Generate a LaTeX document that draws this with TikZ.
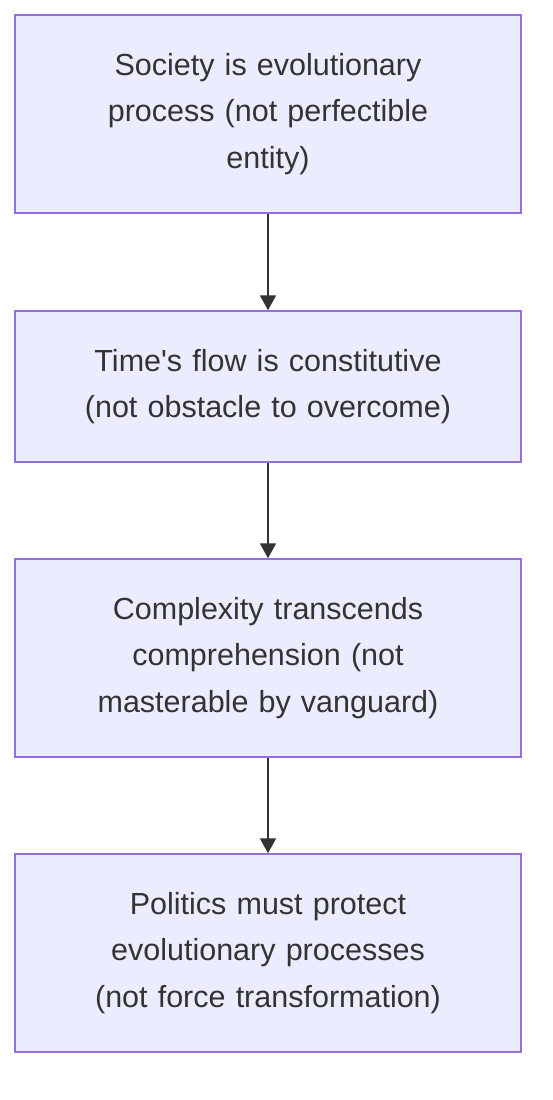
\documentclass[tikz,border=0pt]{standalone}
\usepackage{fontspec}
\setmainfont{Liberation Sans}
\usetikzlibrary{arrows.meta}
\definecolor{boxfill}{HTML}{ECECFF}
\definecolor{boxline}{HTML}{9370DB}
\definecolor{txt}{HTML}{333333}
\tikzset{
  flowbox/.style={draw=boxline, fill=boxfill, line width=1.5pt, minimum width=506pt, text width=480pt, align=center, text=txt, font=\fontsize{30.5pt}{46.5pt}\selectfont, inner sep=0pt},
  flowarrow/.style={draw=txt, line width=2pt, -{Triangle[length=15pt,width=16pt]}}
}
\begin{document}
\begin{tikzpicture}[x=1pt,y=-1pt]
\useasboundingbox (0,0) rectangle (552,1100);
\node[flowbox, minimum height=198pt] (a) at (268,114) {Society is evolutionary\\process (not perfectible\\entity)};
\node[flowbox, minimum height=151pt] (b) at (268,386.5) {Time\textquotesingle s flow is constitutive\\(not obstacle to overcome)};
\node[flowbox, minimum height=198pt] (c) at (268,658) {Complexity transcends\\comprehension (not\\masterable by vanguard)};
\node[flowbox, minimum height=198pt] (d) at (268,953) {Politics must protect\\evolutionary processes\\(not force transformation)};
\draw[flowarrow] (a) -- (b);
\draw[flowarrow] (b) -- (c);
\draw[flowarrow] (c) -- (d);
\end{tikzpicture}
\end{document}
